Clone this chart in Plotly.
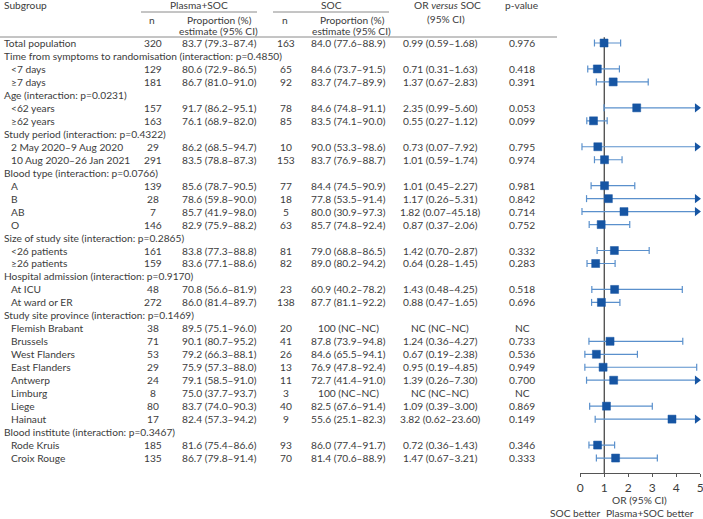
import plotly.graph_objects as go

# ---------------- data ----------------
subgroups = [
    "Total population",
    "Time from symptoms to randomisation (interaction: p=0.4850)",
    "<7 days", "≥7 days",
    "Age (interaction: p=0.0231)",
    "<62 years", "≥62 years",
    "Study period (interaction: p=0.4322)",
    "2 May 2020–9 Aug 2020", "10 Aug 2020–26 Jan 2021",
    "Blood type (interaction: p=0.0766)",
    "A", "B", "AB", "O",
    "Size of study site (interaction: p=0.2865)",
    "<26 patients", "≥26 patients",
    "Hospital admission (interaction: p=0.9170)",
    "At ICU", "At ward or ER",
    "Study site province (interaction: p=0.1469)",
    "Flemish Brabant", "Brussels", "West Flanders", "East Flanders",
    "Antwerp", "Limburg", "Liege", "Hainaut",
    "Blood institute (interaction: p=0.3467)",
    "Rode Kruis", "Croix Rouge",
]
indented = [False, False, True, True, False, True, True, False, True, True,
            False, True, True, True, True, False, True, True, False, True, True,
            False, True, True, True, True, True, True, True, True,
            False, True, True]

plasma_n = ["320", "", "129", "181", "", "157", "163", "", "29", "291",
            "", "139", "28", "7", "146", "", "161", "159", "", "48", "272",
            "", "38", "71", "53", "29", "24", "8", "80", "17",
            "", "185", "135"]
plasma_prop = ["83.7 (79.3–87.4)", "", "80.6 (72.9–86.5)", "86.7 (81.0–91.0)", "",
               "91.7 (86.2–95.1)", "76.1 (68.9–82.0)", "",
               "86.2 (68.5–94.7)", "83.5 (78.8–87.3)", "",
               "85.6 (78.7–90.5)", "78.6 (59.8–90.0)", "85.7 (41.9–98.0)", "82.9 (75.9–88.2)", "",
               "83.8 (77.3–88.8)", "83.6 (77.1–88.6)", "",
               "70.8 (56.6–81.9)", "86.0 (81.4–89.7)", "",
               "89.5 (75.1–96.0)", "90.1 (80.7–95.2)", "79.2 (66.3–88.1)", "75.9 (57.3–88.0)",
               "79.1 (58.5–91.0)", "75.0 (37.7–93.7)", "83.7 (74.0–90.3)", "82.4 (57.3–94.2)", "",
               "81.6 (75.4–86.6)", "86.7 (79.8–91.4)"]
soc_n = ["163", "", "65", "92", "", "78", "85", "", "10", "153",
         "", "77", "18", "5", "63", "", "81", "82", "", "23", "138",
         "", "20", "41", "26", "13", "11", "3", "40", "9",
         "", "93", "70"]
soc_prop = ["84.0 (77.6–88.9)", "", "84.6 (73.7–91.5)", "83.7 (74.7–89.9)", "",
            "84.6 (74.8–91.1)", "83.5 (74.1–90.0)", "",
            "90.0 (53.3–98.6)", "83.7 (76.9–88.7)", "",
            "84.4 (74.5–90.9)", "77.8 (53.5–91.4)", "80.0 (30.9–97.3)", "85.7 (74.8–92.4)", "",
            "79.0 (68.8–86.5)", "89.0 (80.2–94.2)", "",
            "60.9 (40.2–78.2)", "87.7 (81.1–92.2)", "",
            "100 (NC–NC)", "87.8 (73.9–94.8)", "84.6 (65.5–94.1)", "76.9 (47.8–92.4)",
            "72.7 (41.4–91.0)", "100 (NC–NC)", "82.5 (67.6–91.4)", "55.6 (25.1–82.3)", "",
            "86.0 (77.4–91.7)", "81.4 (70.6–88.9)"]
or_est = [0.99, None, 0.71, 1.37, None, 2.35, 0.55, None, 0.73, 1.01,
          None, 1.01, 1.17, 1.82, 0.87, None, 1.42, 0.64, None, 1.43, 0.88,
          None, None, 1.24, 0.67, 0.95, 1.39, None, 1.09, 3.82,
          None, 0.72, 1.47]
or_lo = [0.59, None, 0.31, 0.67, None, 0.99, 0.27, None, 0.07, 0.59,
         None, 0.45, 0.26, 0.07, 0.37, None, 0.70, 0.28, None, 0.48, 0.47,
         None, None, 0.36, 0.19, 0.19, 0.26, None, 0.39, 0.62,
         None, 0.36, 0.67]
or_hi = [1.68, None, 1.63, 2.83, None, 5.60, 1.12, None, 7.92, 1.74,
         None, 2.27, 5.31, 45.18, 2.06, None, 2.87, 1.45, None, 4.25, 1.65,
         None, None, 4.27, 2.38, 4.85, 7.30, None, 3.00, 23.60,
         None, 1.43, 3.21]
p_values = ["0.976", "", "0.418", "0.391", "", "0.053", "0.099", "", "0.795", "0.974",
            "", "0.981", "0.842", "0.714", "0.752", "", "0.332", "0.283", "", "0.518", "0.696",
            "", "NC", "0.733", "0.536", "0.949", "0.700", "NC", "0.869", "0.149",
            "", "0.346", "0.333"]
x_ticks = [0, 1, 2, 3, 4, 5]

# ---------------- layout constants ----------------
W, H = 703, 519
ROW0, ROWH = 43.0, 12.97
AXIS_Y = 473.0
XMIN, XMAX = 0, 5
FONT = "Lato"
FS = 10.2
TXT = "#3c3c3c"
MARK = "#1655a3"
LINE = "#5a90cc"


def px_x(px):
    return px / W


def px_y(py):
    return 1 - py / H


rows = list(range(len(subgroups)))
y_top = -ROW0 / ROWH
y_bot = (AXIS_Y - ROW0) / ROWH

fig = go.Figure()

# CI lines
lx, ly = [], []
for r, lo, hi in zip(rows, or_lo, or_hi):
    if lo is None:
        continue
    lx += [lo, min(hi, XMAX - 0.1), None]
    ly += [r, r, None]
fig.add_trace(go.Scatter(x=lx, y=ly, mode="lines", line=dict(color=LINE, width=1.2),
                         hoverinfo="skip", showlegend=False, cliponaxis=False))

# caps
cx, cy = [], []
for r, lo, hi in zip(rows, or_lo, or_hi):
    if lo is None:
        continue
    cx.append(lo); cy.append(r)
    if hi <= XMAX:
        cx.append(hi); cy.append(r)
fig.add_trace(go.Scatter(x=cx, y=cy, mode="markers",
                         marker=dict(symbol="line-ns-open", size=5, color=LINE,
                                     line=dict(color=LINE, width=1.2)),
                         hoverinfo="skip", showlegend=False, cliponaxis=False))

# arrows for truncated CIs
ax, ay = [], []
for r, hi in zip(rows, or_hi):
    if hi is not None and hi > XMAX:
        ax.append(XMAX - 0.14); ay.append(r)
fig.add_trace(go.Scatter(x=ax, y=ay, mode="markers",
                         marker=dict(symbol="triangle-right", size=8, color=MARK),
                         hoverinfo="skip", showlegend=False, cliponaxis=False))

# point estimates
px_, py_ = [], []
for r, e in zip(rows, or_est):
    if e is not None:
        px_.append(e); py_.append(r)
fig.add_trace(go.Scatter(x=px_, y=py_, mode="markers",
                         marker=dict(symbol="square", size=8, color=MARK,
                                     line=dict(color=MARK, width=0.5)),
                         hoverinfo="skip", showlegend=False, cliponaxis=False))

# reference line at OR = 1
fig.add_shape(type="line", xref="x", yref="y", x0=1, x1=1, y0=-0.45, y1=y_bot,
              line=dict(color="#555555", width=1.4), layer="below")

# header rules
for x0, x1, yy in [(141, 257, 12), (273, 389, 12), (0, 557, 37)]:
    fig.add_shape(type="line", xref="paper", yref="paper",
                  x0=px_x(x0), x1=px_x(x1), y0=px_y(yy), y1=px_y(yy),
                  line=dict(color="#8a8a8a", width=1))

ann = []


def add_text(text, x, y, anchor="center", yref="paper", size=FS):
    ann.append(dict(text=text, x=px_x(x), y=y, xref="paper", yref=yref,
                    xanchor=anchor, yanchor="middle", showarrow=False,
                    font=dict(family=FONT, size=size, color=TXT)))


# header texts
add_text("Subgroup", 2, px_y(5), "left")
add_text("Plasma+SOC", 199, px_y(5))
add_text("SOC", 331, px_y(5))
add_text("OR <i>versus</i> SOC", 447, px_y(5))
add_text("(95% CI)", 446, px_y(19))
add_text("p-value", 521, px_y(5))
add_text("n", 152, px_y(20))
add_text("Proportion (%)", 219, px_y(20))
add_text("estimate (95% CI)", 218, px_y(31))
add_text("n", 285, px_y(20))
add_text("Proportion (%)", 352, px_y(20))
add_text("estimate (95% CI)", 351, px_y(31))

# rows
for r in rows:
    add_text(subgroups[r], 9 if indented[r] else 2, r, "left", yref="y")
    if plasma_n[r]:
        add_text(plasma_n[r], 153, r, yref="y")
        add_text(plasma_prop[r], 219, r, yref="y")
        add_text(soc_n[r], 286, r, yref="y")
        add_text(soc_prop[r], 348, r, yref="y")
        if or_est[r] is None:
            or_txt = "NC (NC–NC)"
        else:
            or_txt = f"{or_est[r]:.2f} ({or_lo[r]:.2f}–{or_hi[r]:.2f})"
        add_text(or_txt, 440, r, yref="y")
        add_text(p_values[r], 522, r, yref="y")

# axis labels below the forest
add_text("OR (95% CI)", 639, px_y(500))
add_text("SOC better", 575, px_y(513))
add_text("Plasma+SOC better", 650, px_y(513))

fig.update_layout(
    width=W, height=H,
    margin=dict(l=0, r=0, t=0, b=0),
    template="none",
    paper_bgcolor="white", plot_bgcolor="white",
    annotations=ann,
    showlegend=False,
    xaxis=dict(domain=[px_x(580.3), px_x(700.3)], range=[XMIN, XMAX],
               tickvals=x_ticks, ticktext=[str(t) for t in x_ticks],
               ticks="outside", ticklen=3, tickwidth=1, tickcolor="#555555",
               ticklabeloverflow="allow",
               showline=True, linecolor="#555555", linewidth=1.2,
               showgrid=False, zeroline=False, automargin=False,
               tickfont=dict(family=FONT, size=12, color=TXT), fixedrange=True),
    yaxis=dict(domain=[1 - AXIS_Y / H, 1], range=[y_bot, y_top], visible=False,
               showgrid=False, zeroline=False, automargin=False, fixedrange=True),
)

fig.write_html(
    "out.html",
    config={"displayModeBar": False},
    post_script="document.body.style.margin='0';document.body.style.overflow='hidden';",
)
